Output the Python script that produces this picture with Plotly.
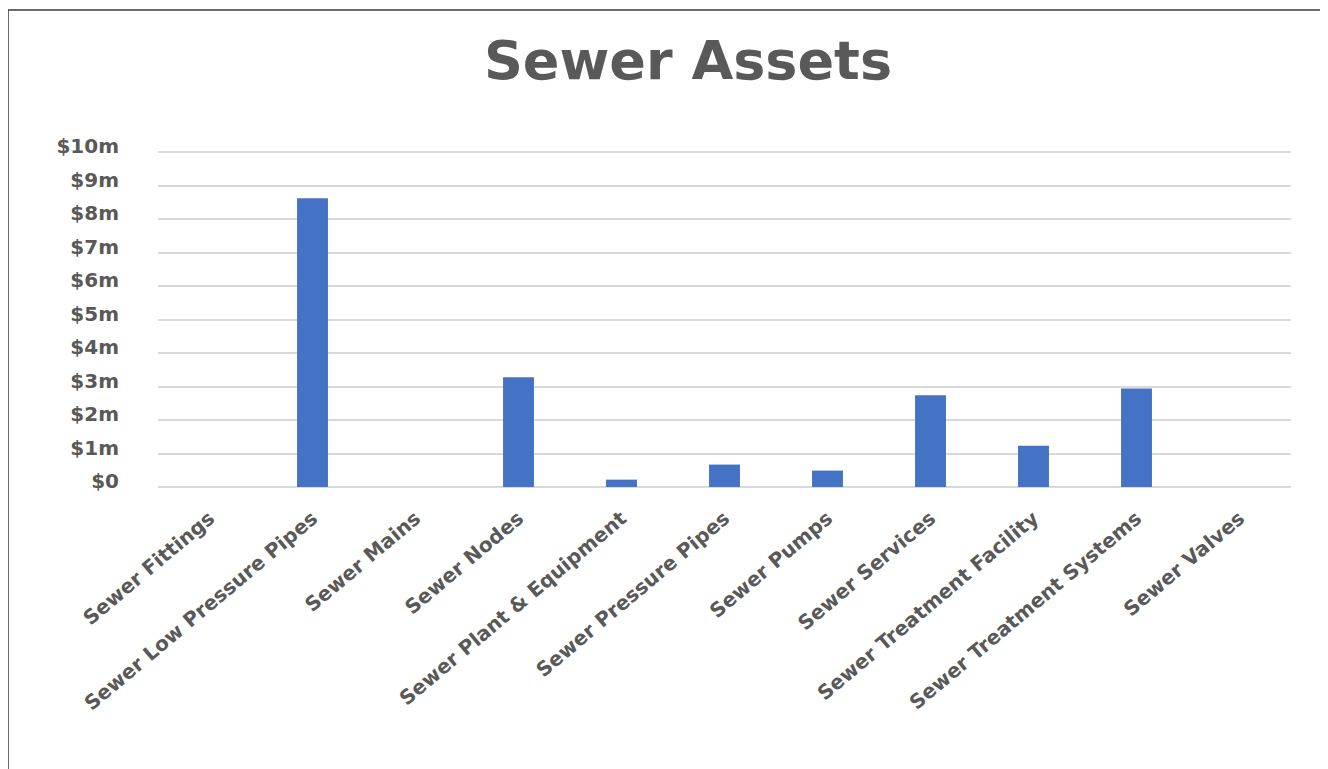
import plotly.graph_objects as go

categories = [
    "Sewer Fittings",
    "Sewer Low Pressure Pipes",
    "Sewer Mains",
    "Sewer Nodes",
    "Sewer Plant & Equipment",
    "Sewer Pressure Pipes",
    "Sewer Pumps",
    "Sewer Services",
    "Sewer Treatment Facility",
    "Sewer Treatment Systems",
    "Sewer Valves",
]
# values in $ millions
values = [0, 8.63, 0, 3.28, 0.22, 0.67, 0.49, 2.74, 1.23, 2.94, 0]
tick_vals = list(range(0, 11))
tick_text = ["$0"] + [f"${v}m" for v in range(1, 11)]

# the page body adds 8px, so the figure is 8px smaller than the window
W, H = 1320, 761
L, R, T, B = 150, 37, 141, 282
PW, PH = W - L - R, H - T - B
grey = "#595959"
font_family = "'DejaVu Sans', Verdana, sans-serif"

fig = go.Figure()
fig.add_trace(go.Bar(x=categories, y=values, marker_color="#4472C4",
                     marker_line=dict(color="#4472C4", width=0), showlegend=False))

fig.update_layout(
    width=W, height=H,
    margin=dict(l=L, r=R, t=T, b=B),
    paper_bgcolor="white", plot_bgcolor="white",
    bargap=0.7,
    title=dict(text="<b>Sewer Assets</b>", x=680 / W, xanchor="center",
               y=1 - 52 / H, yanchor="middle", yref="container",
               font=dict(family=font_family, size=54, color=grey)),
    font=dict(family=font_family, color=grey),
)
fig.update_xaxes(
    tickangle=-40, showgrid=False, showline=False, zeroline=False,
    ticks="", ticklabelstandoff=15,
    tickfont=dict(family=font_family, size=20, color=grey, weight="bold"),
)
# range a bit above 10 so the top gridline is not clipped
fig.update_yaxes(
    range=[0, 10.1], tickvals=tick_vals, ticktext=tick_text,
    showgrid=True, gridcolor="#d9d9d9", gridwidth=1.5,
    zeroline=True, zerolinecolor="#d9d9d9", zerolinewidth=1.5,
    showline=False, ticks="", ticklabelstandoff=38, ticklabelshift=-6,
    tickfont=dict(family=font_family, size=20, color=grey, weight="bold"),
)

# chart border (left and top edges visible in the screenshot)
bx = (0 - L) / PW
by = 1 + (T - 2) / PH
fig.add_shape(type="line", xref="paper", yref="paper",
              x0=bx, x1=bx, y0=-(B + 20) / PH, y1=by,
              line=dict(color="#3a3a3a", width=1.5))
fig.add_shape(type="line", xref="paper", yref="paper",
              x0=bx, x1=1 + (R + 20) / PW, y0=by, y1=by,
              line=dict(color="#3a3a3a", width=1.5))

fig.write_html("out.html")
